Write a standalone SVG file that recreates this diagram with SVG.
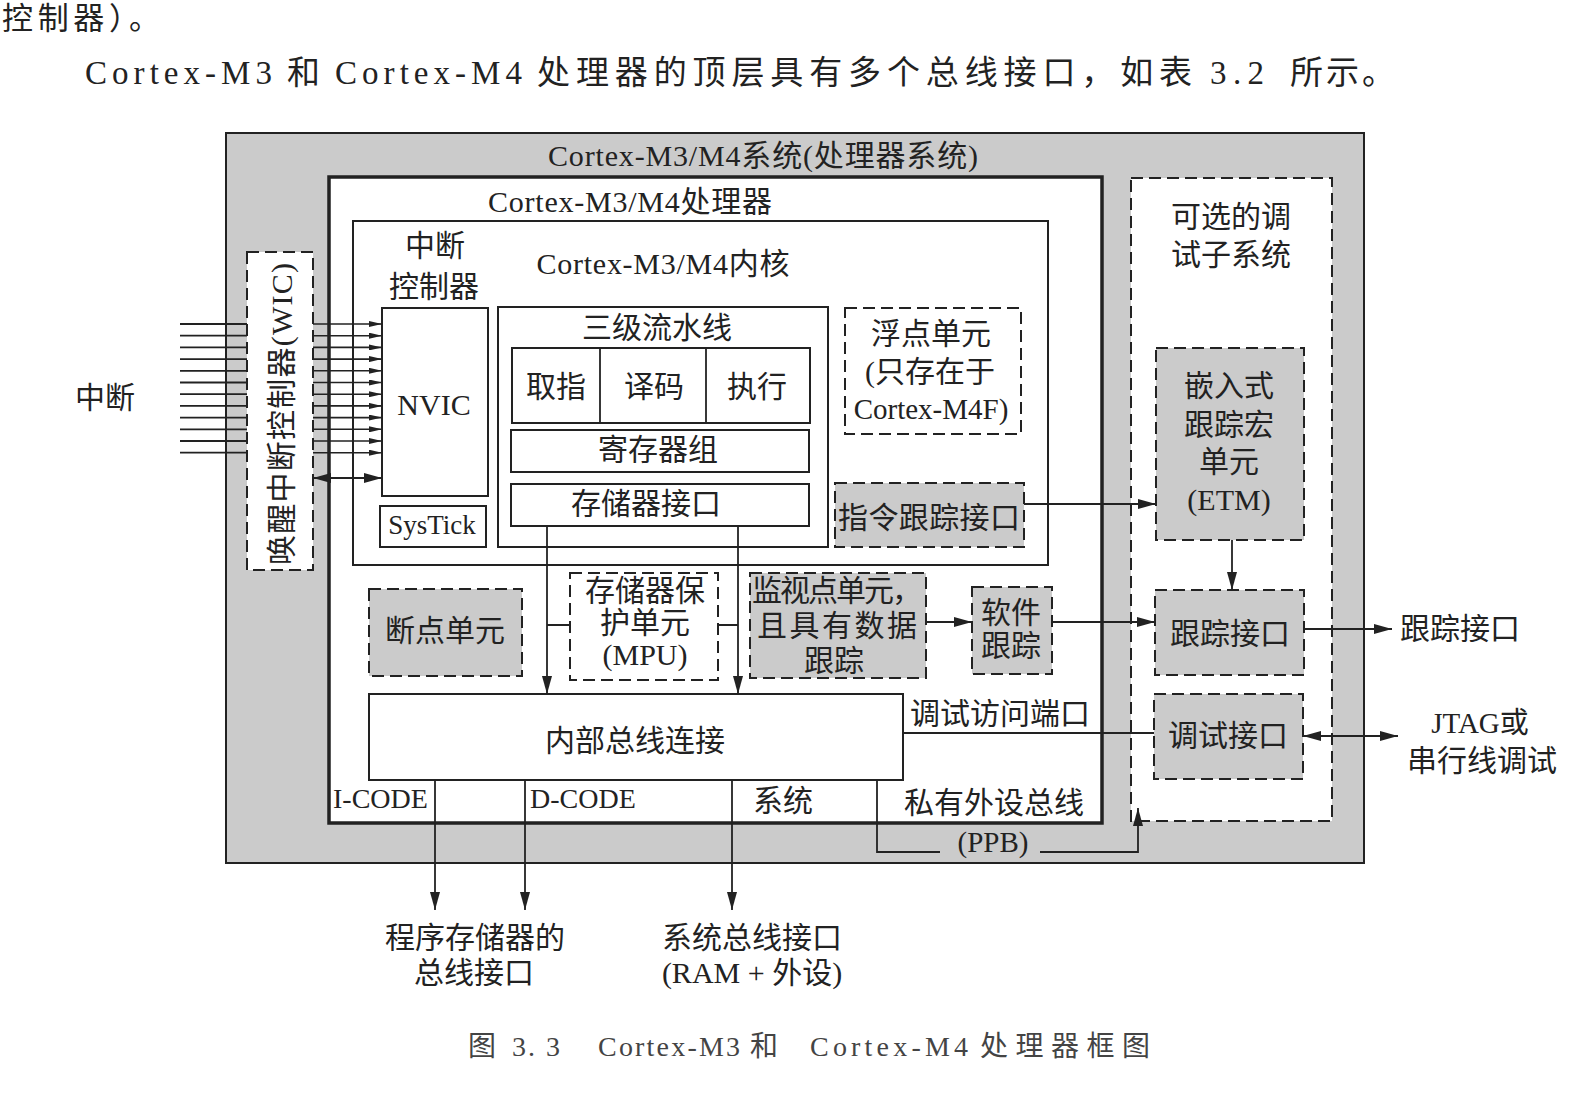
<svg xmlns="http://www.w3.org/2000/svg" width="1575" height="1118" viewBox="0 0 1575 1118">
<defs>
<style>
text{font-family:"Liberation Serif","Noto Sans CJK SC",serif;fill:#222;font-size:30px}
.c{text-anchor:middle}
.pg{font-size:33px}
.cap{font-size:28px;fill:#444}
.box{fill:#fff;stroke:#222;stroke-width:2}
.gray{fill:#cbcbcb;stroke:#222;stroke-width:2;stroke-dasharray:12 6}
.dash{fill:#fff;stroke:#222;stroke-width:2;stroke-dasharray:12 6}
.ln{fill:none;stroke:#222;stroke-width:1.8}
.arr{fill:none;stroke:#222;stroke-width:1.8;marker-end:url(#ah)}
.arr2{fill:none;stroke:#222;stroke-width:1.8;marker-end:url(#ah);marker-start:url(#ah)}
.arrs{fill:none;stroke:#222;stroke-width:1.6;marker-end:url(#as)}
</style>
<marker id="ah" viewBox="0 0 18 10" refX="18" refY="5" markerWidth="18" markerHeight="10" markerUnits="userSpaceOnUse" orient="auto-start-reverse"><path d="M0,0 L18,5 L0,10 z" fill="#222"/></marker>
<marker id="as" viewBox="0 0 13 6" refX="13" refY="3" markerWidth="13" markerHeight="6" markerUnits="userSpaceOnUse" orient="auto"><path d="M0,0 L13,3 L0,6 z" fill="#222"/></marker>
</defs>
<rect width="1575" height="1118" fill="#fff"/>

<g id="page-text">
<text x="2" y="29" style="font-size:31px" textLength="158">控制器）。</text>
<text class="pg" x="85" y="84" textLength="187">Cortex-M3</text>
<text class="pg" x="287" y="84">和</text>
<text class="pg" x="335" y="84" textLength="187">Cortex-M4</text>
<text class="pg" x="537" y="84" textLength="655">处理器的顶层具有多个总线接口，如表</text>
<text class="pg" x="1210" y="84" textLength="54">3.2</text>
<text class="pg" x="1290" y="84" textLength="105">所示。</text>
<text class="cap" x="468" y="1056">图</text>
<text class="cap" x="512" y="1056" textLength="48">3. 3</text>
<text class="cap" x="598" y="1056" textLength="142">Cortex-M3</text>
<text class="cap" x="750" y="1056">和</text>
<text class="cap" x="810" y="1056" textLength="158">Cortex-M4</text>
<text class="cap" x="980" y="1056" textLength="170">处理器框图</text>
</g>

<g id="system">
<rect x="226" y="133" width="1138" height="730" fill="#cbcbcb" stroke="#222" stroke-width="2"/>
<text class="c" x="763" y="166" textLength="430">Cortex-M3/M4系统(处理器系统)</text>
</g>

<g id="processor">
<rect x="329" y="177" width="773" height="646" fill="#fff" stroke="#222" stroke-width="3.5"/>
<text class="c" x="630" y="212" textLength="284">Cortex-M3/M4处理器</text>
</g>

<g id="core">
<rect class="box" x="353" y="221" width="695" height="344"/>
<text class="c" x="663" y="274" textLength="253">Cortex-M3/M4内核</text>
</g>

<g id="nvic-title">
<text class="c" x="435" y="256">中断</text>
<text class="c" x="434" y="297">控制器</text>
</g>

<g id="wic">
<rect class="dash" x="247" y="252" width="66" height="318"/>
<text class="c" transform="translate(292,414) rotate(-90)" textLength="302">唤醒中断控制器(WIC)</text>
</g>

<g id="nvic">
<rect class="box" x="382" y="308" width="106" height="188"/>
<text class="c" x="434" y="415">NVIC</text>
</g>

<g id="systick">
<rect class="box" x="380" y="506" width="106" height="41"/>
<text class="c" x="432" y="534" style="font-size:27px">SysTick</text>
</g>

<g id="pipeline">
<rect class="box" x="498" y="307" width="330" height="240"/>
<text class="c" x="657" y="338">三级流水线</text>
</g>

<g id="stages">
<rect class="box" x="512" y="348" width="298" height="75"/>
<line class="ln" x1="600" y1="348" x2="600" y2="423"/>
<line class="ln" x1="706" y1="348" x2="706" y2="423"/>
<text class="c" x="556" y="397">取指</text>
<text class="c" x="654" y="397">译码</text>
<text class="c" x="757" y="397">执行</text>
</g>

<g id="regs">
<rect class="box" x="511" y="430" width="298" height="42"/>
<text class="c" x="658" y="460">寄存器组</text>
</g>

<g id="memif">
<rect class="box" x="511" y="484" width="298" height="42"/>
<text class="c" x="646" y="514">存储器接口</text>
</g>

<g id="fpu">
<rect class="dash" x="845" y="308" width="176" height="126"/>
<text class="c" x="931" y="344">浮点单元</text>
<text class="c" x="930" y="382">(只存在于</text>
<text class="c" x="931" y="419" style="font-size:29px">Cortex-M4F)</text>
</g>

<g id="itm">
<rect class="gray" x="835" y="483" width="189" height="64"/>
<text class="c" x="929" y="528" textLength="182">指令跟踪接口</text>
</g>

<g id="debug-subsystem">
<rect class="dash" x="1131" y="178" width="201" height="643"/>
<text class="c" x="1231" y="227">可选的调</text>
<text class="c" x="1231" y="265">试子系统</text>
</g>

<g id="etm">
<rect class="gray" x="1156" y="348" width="148" height="192"/>
<text class="c" x="1229" y="396">嵌入式</text>
<text class="c" x="1229" y="435">跟踪宏</text>
<text class="c" x="1229" y="472">单元</text>
<text class="c" x="1229" y="510">(ETM)</text>
</g>

<g id="trace-port">
<rect class="gray" x="1155" y="590" width="149" height="85"/>
<text class="c" x="1230" y="644">跟踪接口</text>
</g>

<g id="debug-port">
<rect class="gray" x="1154" y="694" width="149" height="85"/>
<text class="c" x="1228" y="746">调试接口</text>
</g>

<g id="breakpoint">
<rect class="gray" x="369" y="589" width="153" height="87"/>
<text class="c" x="445" y="641">断点单元</text>
</g>

<g id="mpu">
<rect class="dash" x="570" y="573" width="148" height="107"/>
<text class="c" x="645" y="601">存储器保</text>
<text class="c" x="645" y="633">护单元</text>
<text class="c" x="645" y="665">(MPU)</text>
</g>

<g id="dwt">
<rect class="gray" x="750" y="573" width="176" height="105"/>
<text class="c" x="837" y="601" textLength="170">监视点单元，</text>
<text class="c" x="837" y="636" textLength="160">且具有数据</text>
<text class="c" x="834" y="671">跟踪</text>
</g>

<g id="swtrace">
<rect class="gray" x="972" y="587" width="80" height="87"/>
<text class="c" x="1011" y="623">软件</text>
<text class="c" x="1011" y="656">跟踪</text>
</g>

<g id="bus-matrix">
<rect class="box" x="369" y="694" width="534" height="86"/>
<text class="c" x="635" y="751">内部总线连接</text>
</g>

<g id="labels">
<text x="75" y="408">中断</text>
<text x="333" y="808" style="font-size:28px">I-CODE</text>
<text x="530" y="808" style="font-size:28px">D-CODE</text>
<text class="c" x="783" y="811">系统</text>
<text class="c" x="994" y="813">私有外设总线</text>
<text class="c" x="993" y="852" style="font-size:29px">(PPB)</text>
<text class="c" x="1000" y="724">调试访问端口</text>
<text x="1400" y="639">跟踪接口</text>
<text class="c" x="1480" y="733" style="font-size:29px">JTAG或</text>
<text class="c" x="1482" y="771">串行线调试</text>
<text class="c" x="475" y="948">程序存储器的</text>
<text class="c" x="474" y="983">总线接口</text>
<text class="c" x="752" y="948">系统总线接口</text>
<text class="c" x="752" y="983">(RAM + 外设)</text>
</g>

<g id="connectors">
<path class="ln" d="M180 324H247M180 335.7H247M180 347.4H247M180 359.1H247M180 370.8H247M180 382.5H247M180 394.2H247M180 405.9H247M180 417.6H247M180 429.3H247M180 441H247M180 452.7H247"/>
<path class="arrs" d="M313 324H382"/>
<path class="arrs" d="M313 335.7H382"/>
<path class="arrs" d="M313 347.4H382"/>
<path class="arrs" d="M313 359.1H382"/>
<path class="arrs" d="M313 370.8H382"/>
<path class="arrs" d="M313 382.5H382"/>
<path class="arrs" d="M313 394.2H382"/>
<path class="arrs" d="M313 405.9H382"/>
<path class="arrs" d="M313 417.6H382"/>
<path class="arrs" d="M313 429.3H382"/>
<path class="arrs" d="M313 441H382"/>
<path class="arrs" d="M313 452.7H382"/>
<path class="arr2" d="M313 478H382"/>
<path class="arr" d="M547 526V694"/>
<path class="arr" d="M738 526V694"/>
<path class="ln" d="M547 625H570M718 625H738"/>
<path class="arr" d="M926 622H972"/>
<path class="arr" d="M1052 622H1155"/>
<path class="arr" d="M1024 504H1156"/>
<path class="arr" d="M1232 540V590"/>
<path class="arr" d="M1304 629H1392"/>
<path class="ln" d="M903 733H1154"/>
<path class="arr2" d="M1303 736H1398"/>
<path class="ln" d="M877 780V852H940"/>
<path class="arr" d="M1040 852H1138V808"/>
<path class="arr" d="M435 780V910"/>
<path class="arr" d="M525 780V910"/>
<path class="arr" d="M732 780V910"/>
</g>
</svg>
